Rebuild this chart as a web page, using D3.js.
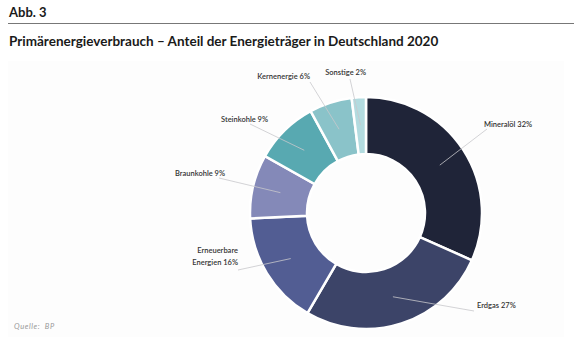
<!DOCTYPE html>
<html>
<head>
<meta charset="utf-8">
<script src="https://cdn.jsdelivr.net/npm/d3@7"></script>
<style>
  body { margin: 0; background: #fff; }
  svg { display: block; font-family: Lato, "Open Sans", sans-serif; }
</style>
</head>
<body>
<div id="chart"></div>
<script>
const categories = ['Mineralöl', 'Erdgas', 'Erneuerbare Energien', 'Braunkohle', 'Steinkohle', 'Kernenergie', 'Sonstige'];
const shares = [32, 27, 16, 9, 9, 6, 2];
const colours = ['#1f2438', '#3c4468', '#525d93', '#8489b8', '#58a9b1', '#8ac3c9', '#b2dbdf'];

// label anchor (x, y) and text alignment per slice
const labelPos = [
  { x: 484, y: 127, anchor: 'start' },
  { x: 477, y: 308, anchor: 'start' },
  { x: 238, y: 255, anchor: 'end' },
  { x: 225, y: 176, anchor: 'end' },
  { x: 268, y: 122, anchor: 'end' },
  { x: 310, y: 79, anchor: 'end' },
  { x: 366, y: 75, anchor: 'end' }
];
const lineEnd = [[487, 129], [474, 311], [238, 270], [219, 178], [250, 124], [310, 82], [350, 79]];

const width = 574;
const height = 337;
const cx = 366;
const cy = 213;
const OUTER = 116;
const INNER = 59;

const svg = d3.select('#chart')
  .append('svg')
  .attr('width', width)
  .attr('height', height);

svg.append('rect')
  .attr('x', 8).attr('y', 61)
  .attr('width', 556).attr('height', 276)
  .attr('fill', '#fdfdfd');

svg.append('text')
  .attr('x', 9).attr('y', 17)
  .attr('font-size', 13).attr('font-weight', 700)
  .attr('fill', '#1a1a1a')
  .text('Abb. 3');

svg.append('line')
  .attr('x1', 8).attr('x2', 574)
  .attr('y1', 23.5).attr('y2', 23.5)
  .attr('stroke', '#777').attr('stroke-width', 1);

svg.append('text')
  .attr('x', 9).attr('y', 46)
  .attr('font-size', 13.5).attr('font-weight', 700)
  .attr('fill', '#1a1a1a')
  .text('Primärenergieverbrauch – Anteil der Energieträger in Deutschland 2020');

const pie = d3.pie().sort(null).value((d) => d);
const arcs = pie(shares);

const arc = d3.arc().innerRadius(INNER).outerRadius(OUTER);
const mid = d3.arc().innerRadius(88).outerRadius(88);

const g = svg.append('g').attr('transform', `translate(${cx},${cy})`);

g.selectAll('path')
  .data(arcs)
  .join('path')
  .attr('d', arc)
  .attr('fill', (d, i) => colours[i])
  .attr('stroke', '#fff')
  .attr('stroke-width', 2.5);

// leader lines from the middle of each ring segment to its label
svg.append('g')
  .selectAll('line')
  .data(arcs)
  .join('line')
  .attr('x1', (d) => cx + mid.centroid(d)[0])
  .attr('y1', (d) => cy + mid.centroid(d)[1])
  .attr('x2', (d, i) => lineEnd[i][0])
  .attr('y2', (d, i) => lineEnd[i][1])
  .attr('stroke', '#c8c8cc')
  .attr('stroke-width', 0.8);

const labels = svg.append('g')
  .attr('font-size', 7.5)
  .attr('font-weight', 600)
  .attr('fill', '#333');

arcs.forEach((d, i) => {
  const p = labelPos[i];
  const t = labels.append('text')
    .attr('x', p.x).attr('y', p.y)
    .attr('text-anchor', p.anchor);
  if (categories[i] === 'Erneuerbare Energien') {
    t.append('tspan').attr('x', p.x).attr('dy', -2).text('Erneuerbare');
    t.append('tspan').attr('x', p.x).attr('dy', 12).text(`Energien ${shares[i]}%`);
  } else {
    t.text(`${categories[i]} ${shares[i]}%`);
  }
});

svg.append('text')
  .attr('x', 14).attr('y', 329)
  .attr('font-size', 7.5).attr('font-style', 'italic')
  .attr('letter-spacing', 0.6)
  .attr('fill', '#999')
  .style('white-space', 'pre')
  .text('Quelle:  BP');
</script>
</body>
</html>
